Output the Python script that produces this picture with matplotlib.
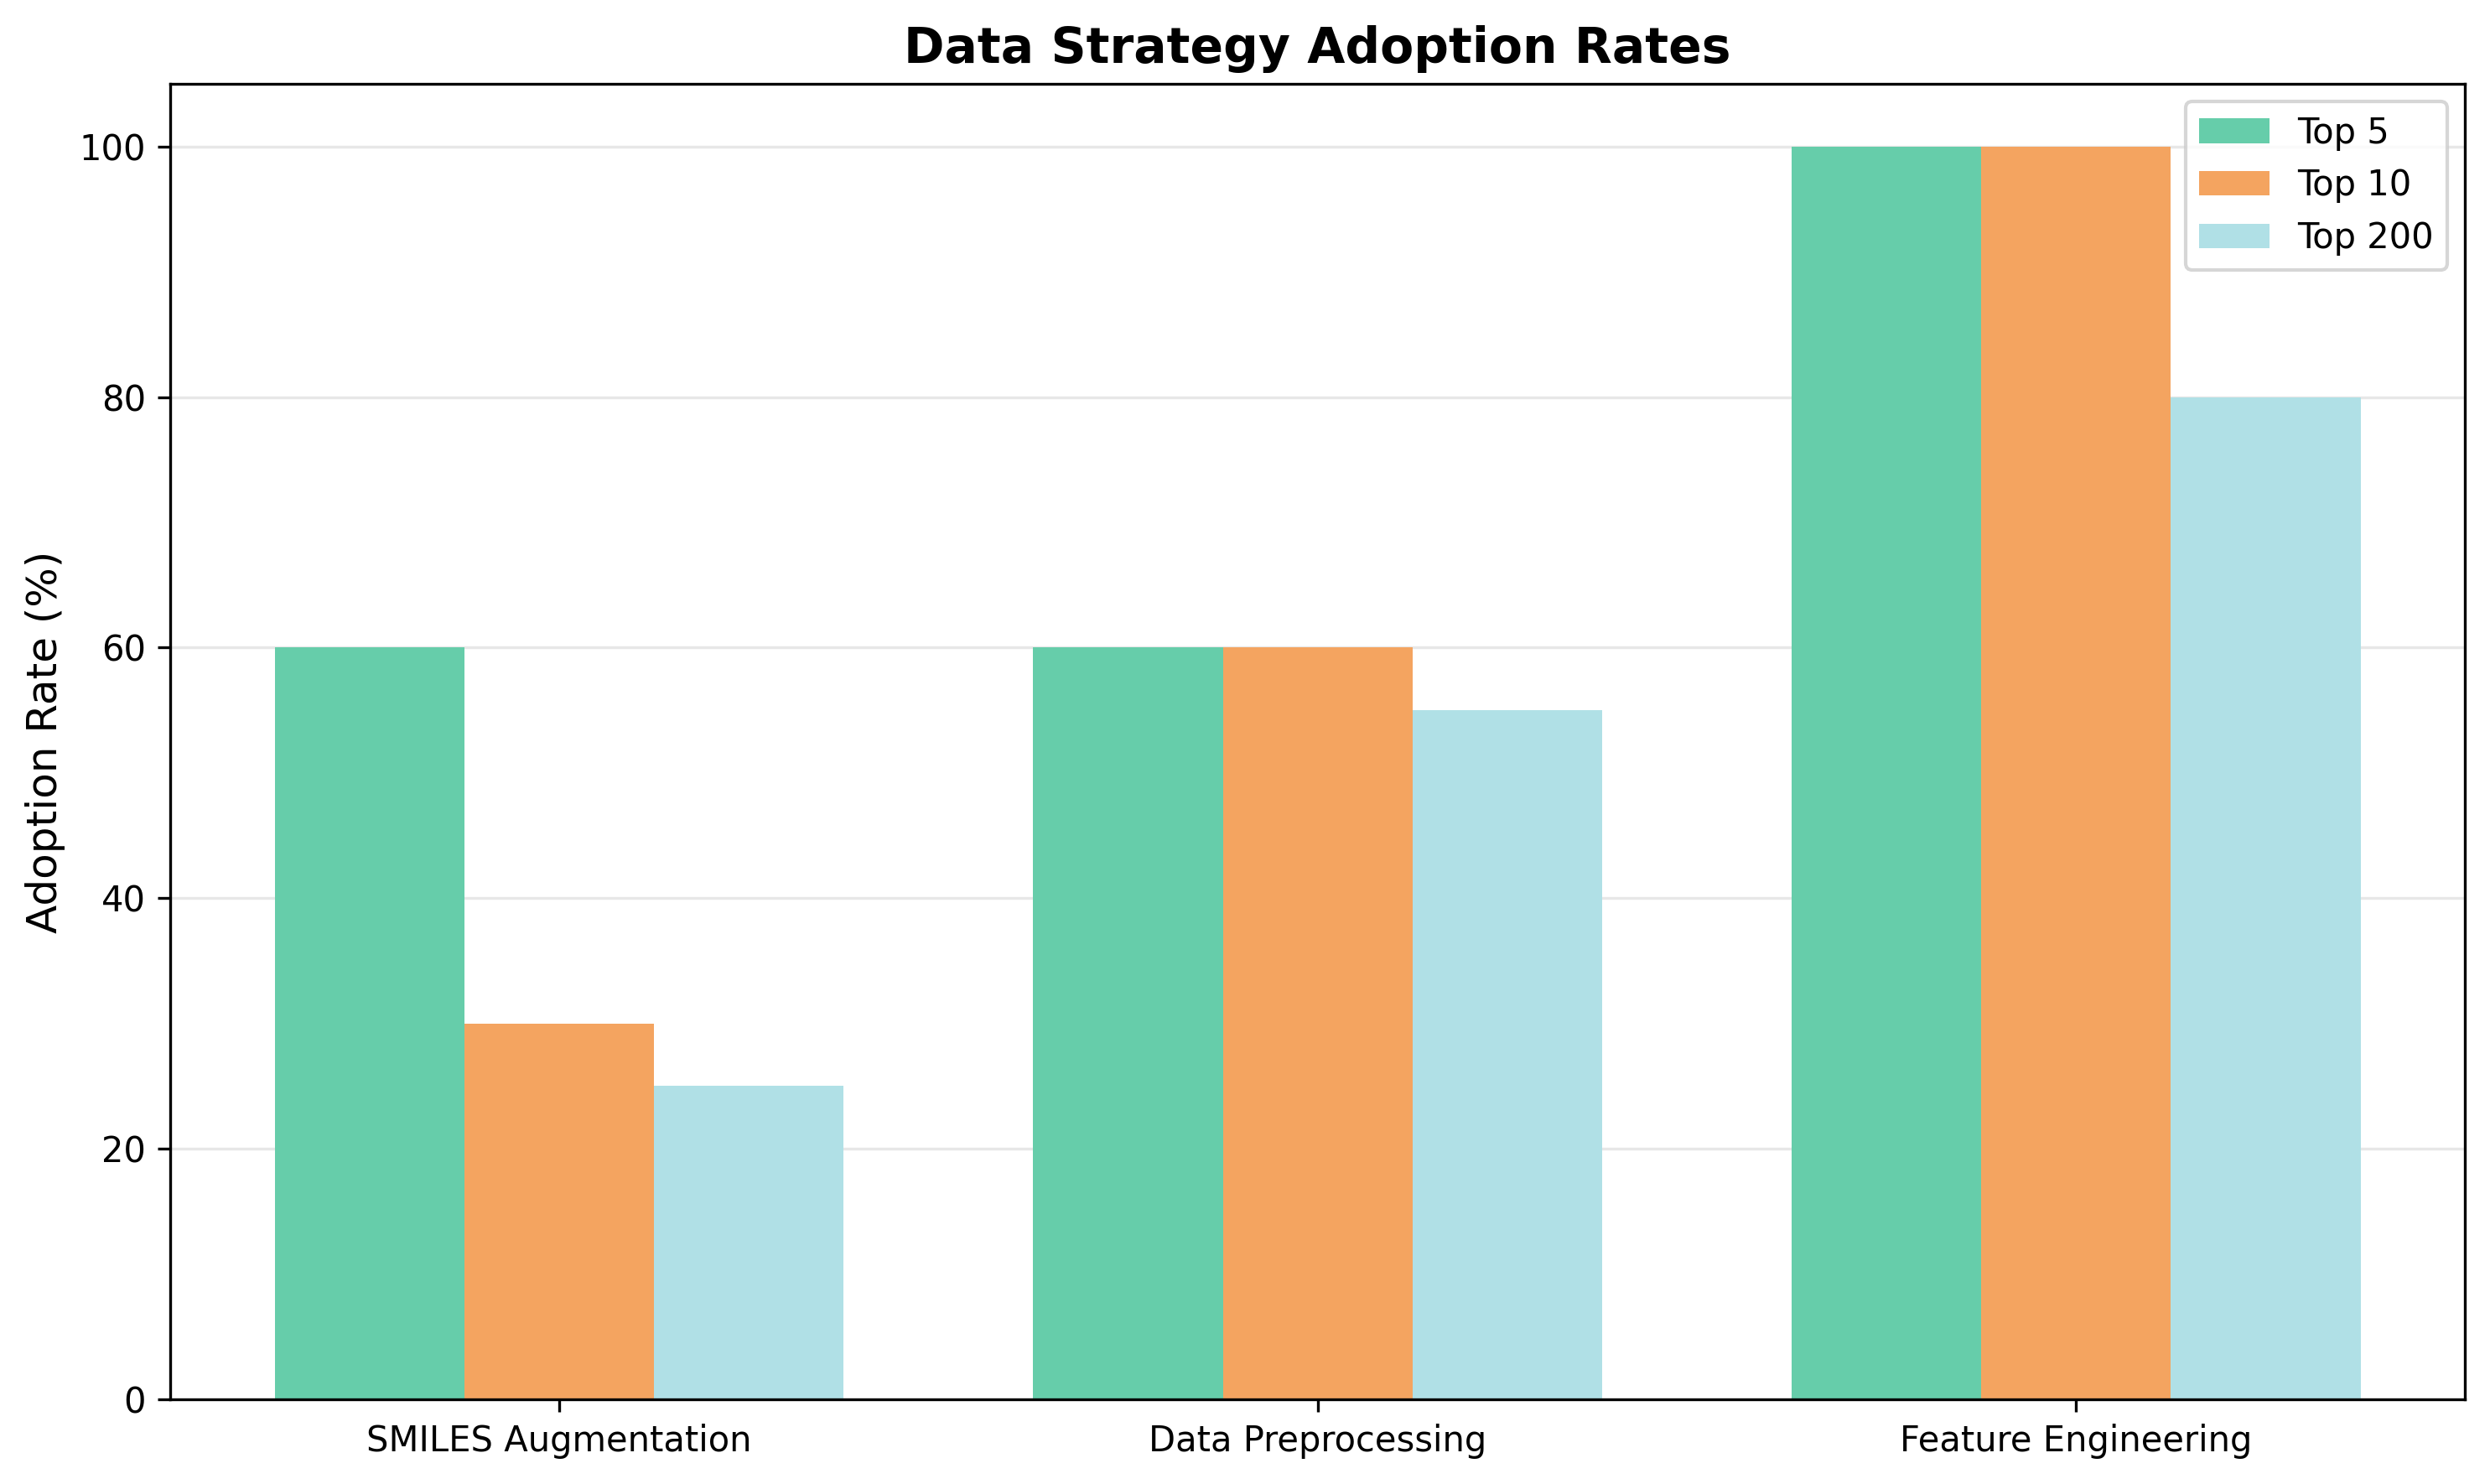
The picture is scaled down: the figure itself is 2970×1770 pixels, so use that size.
import matplotlib
matplotlib.use("Agg")
import matplotlib.pyplot as plt
import numpy as np

categories = ["SMILES Augmentation", "Data Preprocessing", "Feature Engineering"]
series_names = ["Top 5", "Top 10", "Top 200"]
top5 = [60, 60, 100]
top10 = [30, 60, 100]
top200 = [25, 55, 80]
colors = ["#66CDAA", "#F4A460", "#B0E0E6"]

fig, ax = plt.subplots(figsize=(10, 6), dpi=300)
x = np.arange(len(categories))
w = 0.25
for i, (vals, name) in enumerate(zip([top5, top10, top200], series_names)):
    ax.bar(x + (i - 1) * w, vals, w, label=name, color=colors[i])

ax.set_xticks(x)
ax.set_xticklabels(categories)
ax.set_ylabel("Adoption Rate (%)", fontsize=12)
ax.set_title("Data Strategy Adoption Rates", fontsize=14, fontweight="bold")
ax.yaxis.grid(True, alpha=0.3)
ax.set_axisbelow(True)
ax.legend(loc="upper right")
fig.tight_layout()
fig.savefig("out.png", dpi=300, bbox_inches="tight")
